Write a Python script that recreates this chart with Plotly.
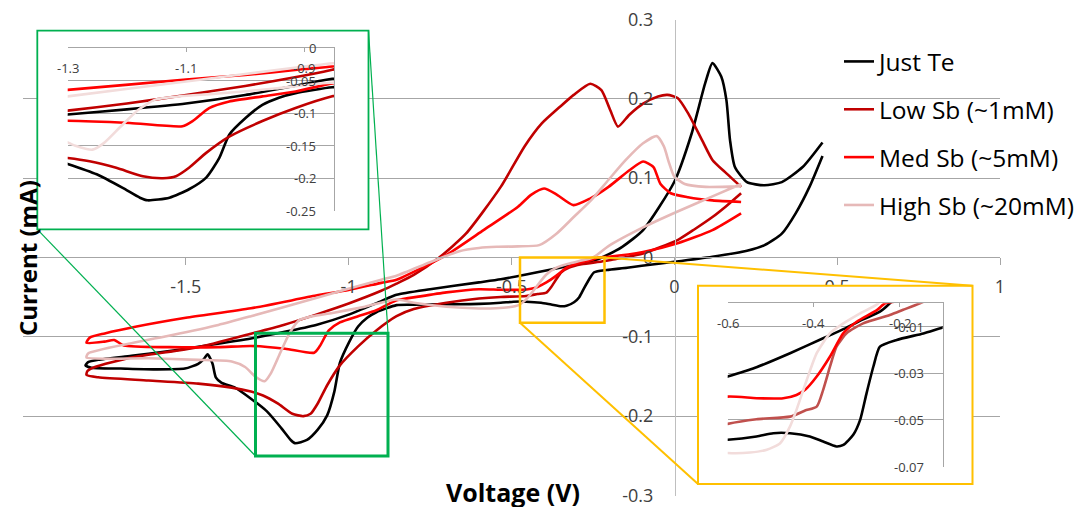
import plotly.graph_objects as go

W, H = 1080, 507

# ---------------- data (potential in V, current in mA) ----------------
series_names = ["Just Te", "Low Sb (~1mM)", "Med Sb (~5mM)", "High Sb (~20mM)"]

just_te_v = [0.455, 0.415, 0.373, 0.33, 0.277, 0.223, 0.117, 0.0, -0.1, -0.145, -0.207, -0.246,
             -0.261, -0.277, -0.292, -0.308, -0.331, -0.347, -0.378, -0.409, -0.455, -0.494, -0.533,
             -0.6, -0.7, -0.8, -0.853, -0.915, -0.943, -0.971, -0.999, -1.027, -1.044, -1.066,
             -1.095, -1.128, -1.165, -1.178, -1.207, -1.251, -1.3, -1.349, -1.39, -1.408, -1.418,
             -1.433, -1.445, -1.462, -1.503, -1.6, -1.7, -1.79, -1.808, -1.8, -1.769, -1.667, -1.55,
             -1.462, -1.3, -1.2, -1.1, -1.0, -0.9, -0.853, -0.75, -0.6, -0.533, -0.455, -0.378,
             -0.331, -0.285, -0.246, -0.223, -0.16, -0.096, 0.0, 0.053, 0.095, 0.117, 0.144, 0.16,
             0.171, 0.186, 0.223, 0.277, 0.33, 0.394, 0.455]
just_te_i = [0.128, 0.089, 0.056, 0.030, 0.0156, 0.0085, 0.001, -0.0054, -0.0104, -0.0129, -0.0157,
             -0.0186, -0.027, -0.0385, -0.050, -0.0564, -0.0607, -0.0614, -0.0593, -0.0571, -0.0557,
             -0.0557, -0.0571, -0.0585, -0.059, -0.0595, -0.060, -0.069, -0.076, -0.087, -0.107,
             -0.133, -0.169, -0.199, -0.217, -0.230, -0.234, -0.230, -0.215, -0.194, -0.178, -0.164,
             -0.158, -0.151, -0.134, -0.122, -0.128, -0.134, -0.140, -0.141, -0.140, -0.139, -0.136,
             -0.132, -0.129, -0.124, -0.118, -0.1125, -0.102, -0.094, -0.085, -0.072, -0.055, -0.047,
             -0.040, -0.0314, -0.0274, -0.0214, -0.015, -0.0111, -0.0069, -0.0036, 0.0, 0.0135,
             0.0346, 0.0955, 0.156, 0.22, 0.245, 0.228, 0.198, 0.148, 0.114, 0.095, 0.091, 0.095,
             0.114, 0.145]

low_sb_v = [0.205, 0.16, 0.117, 0.06, 0.01, -0.05, -0.096, -0.153, -0.192, -0.223, -0.285, -0.323,
            -0.347, -0.362, -0.378, -0.393, -0.42, -0.455, -0.533, -0.6, -0.7, -0.8, -0.853, -0.915,
            -0.971, -1.027, -1.066, -1.095, -1.117, -1.139, -1.173, -1.218, -1.263, -1.3, -1.359,
            -1.462, -1.615, -1.769, -1.805, -1.802, -1.779, -1.667, -1.462, -1.3, -1.2, -1.1, -1.0,
            -0.9, -0.853, -0.8, -0.725, -0.64, -0.533, -0.46, -0.407, -0.351, -0.309, -0.258,
            -0.224, -0.197, -0.173, -0.138, -0.096, -0.05, -0.021, 0.01, 0.042, 0.085, 0.117, 0.16,
            0.205]
low_sb_i = [0.081, 0.065, 0.051, 0.035, 0.022, 0.012, 0.005, 0.0, -0.0028, -0.005, -0.0086, -0.0128,
            -0.0186, -0.0271, -0.0371, -0.0443, -0.046, -0.0486, -0.0497, -0.0517, -0.057, -0.065,
            -0.074, -0.092, -0.112, -0.136, -0.161, -0.184, -0.197, -0.200, -0.197, -0.184, -0.174,
            -0.169, -0.164, -0.159, -0.155, -0.151, -0.148, -0.143, -0.138, -0.126, -0.113, -0.096,
            -0.085, -0.072, -0.058, -0.042, -0.033, -0.022, -0.001, 0.030, 0.089, 0.14, 0.169, 0.19,
            0.205, 0.219, 0.211, 0.186, 0.165, 0.18, 0.194, 0.203, 0.205, 0.201, 0.182, 0.148, 0.123,
            0.106, 0.089]

med_sb_v = [0.205, 0.117, 0.01, -0.096, -0.202, -0.234, -0.253, -0.3, -0.331, -0.362, -0.393, -0.42,
            -0.44, -0.471, -0.533, -0.6, -0.7, -0.78, -0.853, -0.915, -0.971, -1.027, -1.061, -1.089,
            -1.106, -1.195, -1.3, -1.4, -1.55, -1.69, -1.72, -1.75, -1.805, -1.795, -1.749, -1.651,
            -1.5, -1.3, -1.1, -1.0, -0.9, -0.853, -0.78, -0.693, -0.586, -0.48, -0.44, -0.40, -0.36,
            -0.31, -0.26, -0.202, -0.138, -0.096, -0.064, -0.043, -0.011, 0.042, 0.117, 0.205]
med_sb_i = [0.0556, 0.0345, 0.018, 0.007, 0.001, 0.0, -0.0029, -0.0079, -0.0128, -0.0228, -0.0314,
            -0.0371, -0.0393, -0.0407, -0.0407, -0.040, -0.044, -0.049, -0.054, -0.0665, -0.074,
            -0.0819, -0.092, -0.112, -0.120, -0.115, -0.1115, -0.113, -0.113, -0.111, -0.104, -0.106,
            -0.1075, -0.101, -0.0957, -0.087, -0.076, -0.064, -0.048, -0.041, -0.032, -0.028, -0.014,
            0.005, 0.0345, 0.064, 0.079, 0.087, 0.079, 0.066, 0.074, 0.089, 0.11, 0.121, 0.114,
            0.093, 0.081, 0.076, 0.072, 0.070]

high_sb_v = [0.205, 0.117, 0.01, -0.096, -0.2, -0.25, -0.292, -0.331, -0.362, -0.393, -0.416, -0.44,
             -0.455, -0.478, -0.509, -0.548, -0.6, -0.7, -0.8, -0.853, -0.95, -1.05, -1.111, -1.152,
             -1.181, -1.21, -1.239, -1.258, -1.287, -1.318, -1.359, -1.462, -1.615, -1.805, -1.8,
             -1.667, -1.545, -1.4, -1.3, -1.1, -0.9, -0.853, -0.75, -0.66, -0.6, -0.545, -0.48,
             -0.415, -0.362, -0.309, -0.256, -0.202, -0.149, -0.096, -0.054, -0.032, -0.016, 0.0,
             0.032, 0.096, 0.205]
high_sb_i = [0.0926, 0.077, 0.058, 0.038, 0.015, 0.0, -0.0043, -0.0086, -0.0128, -0.0214, -0.0328,
             -0.0457, -0.0528, -0.060, -0.0628, -0.064, -0.0642, -0.062, -0.057, -0.053, -0.062,
             -0.070, -0.074, -0.079, -0.095, -0.12, -0.146, -0.156, -0.150, -0.138, -0.131, -0.129,
             -0.127, -0.126, -0.121, -0.108, -0.098, -0.085, -0.074, -0.051, -0.028, -0.023, -0.006,
             0.008, 0.012, 0.0135, 0.014, 0.0156, 0.030, 0.051, 0.072, 0.098, 0.123, 0.144, 0.153,
             0.14, 0.119, 0.102, 0.0926, 0.089, 0.090]

voltages = [just_te_v, low_sb_v, med_sb_v, high_sb_v]
currents = [just_te_i, low_sb_i, med_sb_i, high_sb_i]

main_colors = ["#000000", "#c00000", "#ff0000", "#e6b9b8"]
green_colors = ["#000000", "#c00000", "#ff0000", "#f2dcdb"]
orange_colors = ["#000000", "#c0504d", "#ff0000", "#f2dcdb"]

# axis ticks
x_tick_vals = [-1.5, -1, -0.5, 0, 0.5, 1]
x_tick_text = ["-1.5", "-1", "-0.5", "0", "0.5", "1"]
y_tick_vals = [-0.3, -0.2, -0.1, 0, 0.1, 0.2, 0.3]
y_tick_text = ["-0.3", "-0.2", "-0.1", "0", "0.1", "0.2", "0.3"]

green_x_vals = [-1.3, -1.1, -0.9]
green_x_text = ["-1.3", "-1.1", "-0.9"]
green_y_vals = [0, -0.05, -0.1, -0.15, -0.2, -0.25]
green_y_text = ["0", "-0.05", "-0.1", "-0.15", "-0.2", "-0.25"]

orange_x_vals = [-0.6, -0.4, -0.2]
orange_x_text = ["-0.6", "-0.4", "-0.2"]
orange_y_vals = [-0.01, -0.03, -0.05, -0.07]
orange_y_text = ["-0.01", "-0.03", "-0.05", "-0.07"]


# ---------------- layout helpers (pixel -> paper) ----------------
def px(x):
    return x / W


def py(y):
    return 1 - y / H


GRID = "#a6a6a6"
TICK_FONT = dict(family="Open Sans", size=18, color="#404040")
INSET_FONT = dict(family="Open Sans", size=13, color="#404040")
GREEN = "#00b050"
ORANGE = "#ffc000"

fig = go.Figure()

for k in range(4):
    fig.add_trace(go.Scatter(
        x=voltages[k], y=currents[k], mode="lines", name=series_names[k],
        line=dict(color=main_colors[k], width=2.6, shape="spline", smoothing=0.6),
        xaxis="x", yaxis="y", legendgroup=str(k), hoverinfo="skip"))

# background panels for the two magnified views
fig.add_trace(go.Scatter(x=[None], y=[None], xaxis="x2", yaxis="y2", showlegend=False))
for k in range(4):
    fig.add_trace(go.Scatter(
        x=voltages[k], y=currents[k], mode="lines", showlegend=False,
        line=dict(color=green_colors[k], width=2.6, shape="spline", smoothing=0.6),
        xaxis="x3", yaxis="y3", hoverinfo="skip"))
fig.add_trace(go.Scatter(x=[None], y=[None], xaxis="x4", yaxis="y4", showlegend=False))
for k in range(4):
    fig.add_trace(go.Scatter(
        x=voltages[k], y=currents[k], mode="lines", showlegend=False,
        line=dict(color=orange_colors[k], width=2.6, shape="spline", smoothing=0.6),
        xaxis="x5", yaxis="y5", hoverinfo="skip"))

hidden = dict(visible=False, range=[0, 1], fixedrange=True)

fig.update_layout(
    width=W, height=H, autosize=False,
    margin=dict(l=0, r=0, t=0, b=0, autoexpand=False),
    paper_bgcolor="white", plot_bgcolor="white",
    font=dict(family="Open Sans", color="#000000"),
    xaxis=dict(domain=[px(23), px(1000)], range=[-2, 1], anchor="free", position=py(257.4),
               showline=True, linecolor=GRID, linewidth=1, ticks="outside", ticklen=7,
               tickcolor=GRID, tickvals=x_tick_vals, ticktext=x_tick_text, showgrid=False,
               zeroline=False, tickfont=TICK_FONT, ticklabelstandoff=6),
    yaxis=dict(domain=[py(495.5), py(19.5)], range=[-0.3, 0.3], anchor="free", position=px(675),
               showline=True, linecolor="#bfbfbf", linewidth=1, ticks="", showgrid=True,
               gridcolor=GRID, gridwidth=1, tickvals=y_tick_vals, ticktext=y_tick_text,
               zeroline=False, tickfont=TICK_FONT, ticklabelstandoff=18),
    xaxis2=dict(domain=[px(37.3), px(368.5)], anchor="y2", **hidden),
    yaxis2=dict(domain=[py(229.3), py(30.7)], anchor="x2", **hidden),
    xaxis3=dict(domain=[px(67.7), px(334)], range=[-1.3, -0.85], anchor="y3", side="top",
                showline=True, linecolor=GRID, ticks="inside", ticklen=4, tickcolor=GRID,
                tickvals=green_x_vals, showticklabels=False, showgrid=False, zeroline=False),
    yaxis3=dict(domain=[py(211), py(48.3)], range=[-0.2505, 0], anchor="x3", side="right",
                showline=True, linecolor=GRID, ticks="", tickvals=green_y_vals,
                showticklabels=False, showgrid=True, gridcolor=GRID, zeroline=False),
    xaxis4=dict(domain=[px(698), px(972.5)], anchor="y4", **hidden),
    yaxis4=dict(domain=[py(484), py(285.7)], anchor="x4", **hidden),
    xaxis5=dict(domain=[px(727.7), px(942.7)], range=[-0.6, -0.1], anchor="y5", side="top",
                showline=True, linecolor=GRID, ticks="inside", ticklen=4, tickcolor=GRID,
                tickvals=orange_x_vals, showticklabels=False, showgrid=False, zeroline=False),
    yaxis5=dict(domain=[py(467), py(303.3)], range=[-0.0702, 0], anchor="x5", side="right",
                showline=True, linecolor=GRID, ticks="", tickvals=orange_y_vals,
                showticklabels=False, showgrid=True, gridcolor=GRID, zeroline=False),
    legend=dict(x=px(839), y=py(39), xanchor="left", yanchor="top", bgcolor="rgba(0,0,0,0)",
                font=dict(family="Open Sans", size=24.5, color="#000000"),
                traceorder="grouped", tracegroupgap=13, itemwidth=30),
    showlegend=True,
)

shapes = [
    # opaque panels behind the magnified views
    dict(type="rect", xref="x2", yref="y2", x0=0, x1=1, y0=0, y1=1, layer="below",
         fillcolor="white", line=dict(width=0)),
    dict(type="rect", xref="x4", yref="y4", x0=0, x1=1, y0=0, y1=1, layer="below",
         fillcolor="white", line=dict(width=0)),
    # green magnifier
    dict(type="rect", xref="paper", yref="paper", x0=px(255.5), x1=px(388), y0=py(456), y1=py(333.3),
         line=dict(color=GREEN, width=3), layer="above"),
    dict(type="rect", xref="paper", yref="paper", x0=px(37.3), x1=px(368.5), y0=py(229.3), y1=py(30.7),
         line=dict(color=GREEN, width=1.8), layer="above"),
    dict(type="line", xref="paper", yref="paper", x0=px(37.3), y0=py(229.3), x1=px(255.5), y1=py(456),
         line=dict(color=GREEN, width=1.2), layer="above"),
    dict(type="line", xref="paper", yref="paper", x0=px(368.5), y0=py(30.7), x1=px(388), y1=py(333.3),
         line=dict(color=GREEN, width=1.2), layer="above"),
    # orange magnifier
    dict(type="rect", xref="paper", yref="paper", x0=px(520), x1=px(604.5), y0=py(322.7), y1=py(257.5),
         line=dict(color=ORANGE, width=2.5), layer="above"),
    dict(type="rect", xref="paper", yref="paper", x0=px(698), x1=px(972.5), y0=py(484), y1=py(285.7),
         line=dict(color=ORANGE, width=2), layer="above"),
    dict(type="line", xref="paper", yref="paper", x0=px(604.5), y0=py(257.5), x1=px(972.5), y1=py(285.7),
         line=dict(color=ORANGE, width=2), layer="above"),
    dict(type="line", xref="paper", yref="paper", x0=px(520), y0=py(322.7), x1=px(698), y1=py(484),
         line=dict(color=ORANGE, width=2), layer="above"),
]
fig.update_layout(shapes=shapes)

annotations = [
    dict(text="<b>Current (mA)</b>", xref="paper", yref="paper", x=px(27), y=py(258),
         textangle=-90, showarrow=False, font=dict(family="Open Sans", size=24, color="#000000"),
         xanchor="center", yanchor="middle"),
    dict(text="<b>Voltage (V)</b>", xref="paper", yref="paper", x=px(513), y=py(492),
         showarrow=False, font=dict(family="Open Sans", size=25, color="#000000"),
         xanchor="center", yanchor="middle"),
]
for v, t in zip(green_x_vals, green_x_text):
    annotations.append(dict(text=t, xref="x3", yref="y3", x=v, y=0, yshift=-20, showarrow=False,
                            font=INSET_FONT, xanchor="center", yanchor="middle"))
for v, t in zip(green_y_vals, green_y_text):
    annotations.append(dict(text=t, xref="x3", yref="y3", x=-0.85, y=v, xshift=-16, showarrow=False,
                            font=INSET_FONT, xanchor="right", yanchor="middle"))
for v, t in zip(orange_x_vals, orange_x_text):
    annotations.append(dict(text=t, xref="x5", yref="y5", x=v, y=0, yshift=-20, showarrow=False,
                            font=INSET_FONT, xanchor="center", yanchor="middle"))
for v, t in zip(orange_y_vals, orange_y_text):
    annotations.append(dict(text=t, xref="x5", yref="y5", x=-0.1, y=v, xshift=-17, showarrow=False,
                            font=INSET_FONT, xanchor="right", yanchor="middle"))
fig.update_layout(annotations=annotations)

fig.write_html("out.html")
